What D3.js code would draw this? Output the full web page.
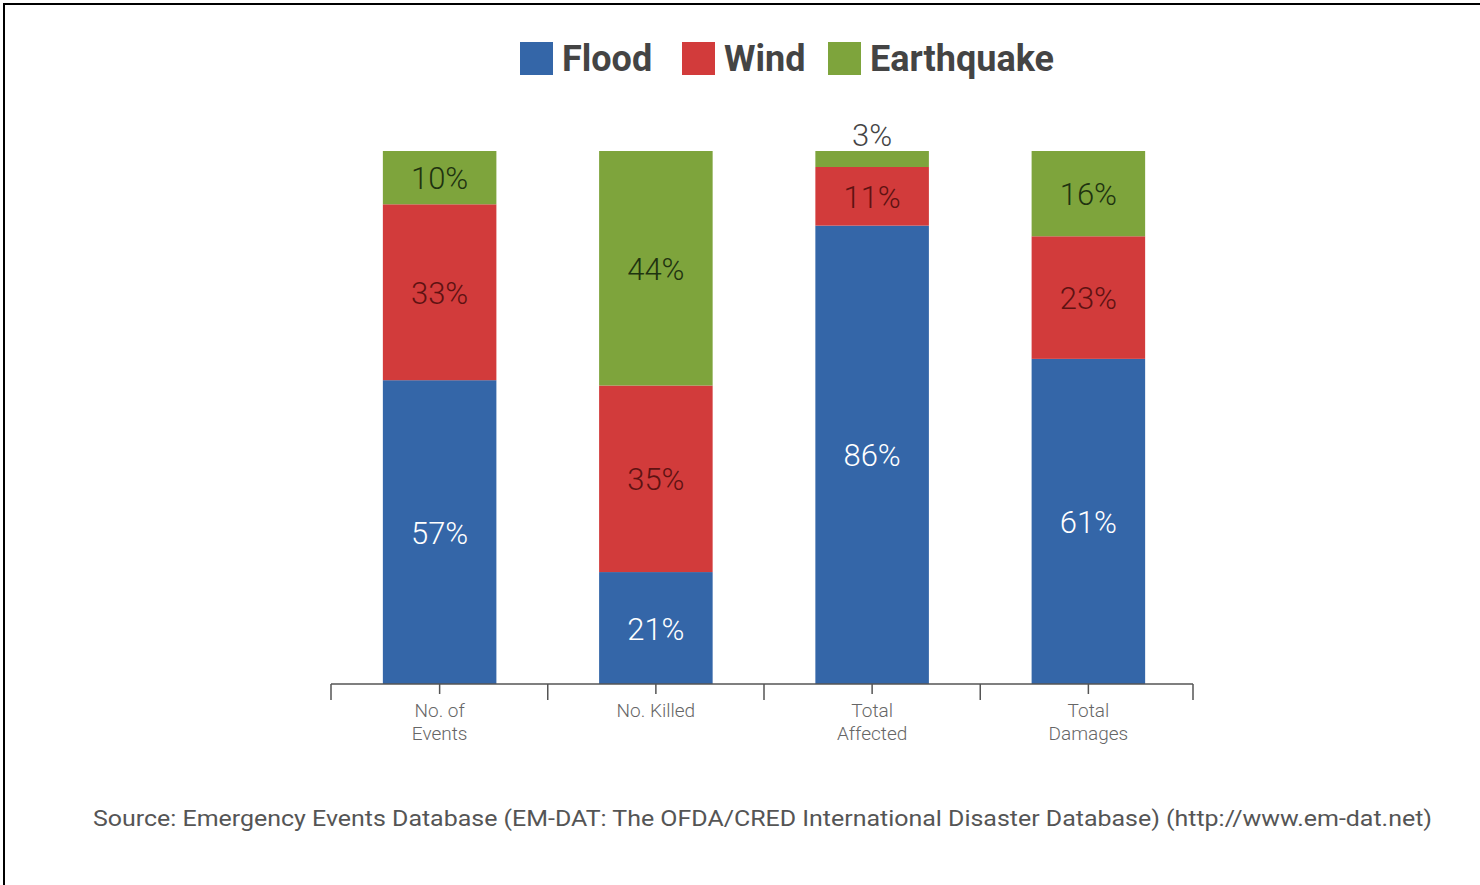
<!DOCTYPE html>
<html>
<head>
<meta charset="utf-8">
<script src="https://cdn.jsdelivr.net/npm/d3@7"></script>
<style>
  html, body { margin: 0; padding: 0; background: #fff; }
  svg { display: block; }
</style>
</head>
<body>
<svg id="chart" width="1480" height="885"></svg>
<script>
// Share of disasters by type across four impact measures (percent)
const categories = [["No. of", "Events"], ["No. Killed"], ["Total", "Affected"], ["Total", "Damages"]];
const seriesNames = ["Flood", "Wind", "Earthquake"];
const flood = [57, 21, 86, 61];
const wind = [33, 35, 11, 23];
const earthquake = [10, 44, 3, 16];
const sourceText = "Source: Emergency Events Database (EM-DAT: The OFDA/CRED International Disaster Database) (http://www.em-dat.net)";

const colors = ["#3466a8", "#d23b3b", "#7ea43c"];
const labelColors = ["#ffffff", "#5e1212", "#1e3310"];

const svg = d3.select("#chart");

// frame lines along the top and left edges
svg.append("line").attr("x1", 3).attr("x2", 1480).attr("y1", 4).attr("y2", 4)
  .attr("stroke", "#000").attr("stroke-width", 2);
svg.append("line").attr("x1", 4).attr("x2", 4).attr("y1", 3).attr("y2", 885)
  .attr("stroke", "#000").attr("stroke-width", 2);

const keys = categories.map((c, i) => i);
const axisLeft = 331, axisRight = 1193;
const x = d3.scaleBand().domain(keys).range([331.5, 1196.5]).paddingInner(0.475).paddingOuter(0.2375);
const y = d3.scaleLinear().domain([0, 100]).range([684, 151]);

const rows = keys.map(i => ({ i, Flood: flood[i], Wind: wind[i], Earthquake: earthquake[i] }));
const stacked = d3.stack().keys(seriesNames)(rows);

const layers = svg.append("g").selectAll("g").data(stacked).join("g")
  .attr("fill", (d, k) => colors[k]);

layers.selectAll("rect").data(d => d).join("rect")
  .attr("x", d => x(d.data.i))
  .attr("width", x.bandwidth())
  .attr("y", d => y(d[1]))
  .attr("height", d => y(d[0]) - y(d[1]));

// value labels: centred in the segment, or above the bar when the segment is too thin
const labelFont = "Roboto, 'Liberation Sans', sans-serif";
stacked.forEach((layer, k) => {
  layer.forEach(d => {
    const v = d[1] - d[0];
    const h = y(d[0]) - y(d[1]);
    const inside = h > 36;
    svg.append("text")
      .attr("x", x(d.data.i) + x.bandwidth() / 2)
      .attr("y", inside ? (y(d[0]) + y(d[1])) / 2 + 1 : y(d[1]) - 16)
      .attr("text-anchor", "middle")
      .attr("dominant-baseline", "central")
      .attr("font-family", labelFont)
      .attr("font-weight", 300)
      .attr("font-size", 31)
      .attr("fill", inside ? labelColors[k] : "#444")
      .text(v + "%");
  });
});

// category axis with ticks at band edges and centres
const axisY = 684;
const ax = svg.append("g").attr("stroke", "#555").attr("stroke-width", 1.5);
ax.append("line").attr("x1", axisLeft).attr("x2", axisRight).attr("y1", axisY).attr("y2", axisY);
const edges = keys.map(i => x(i) - x.step() * x.paddingInner() / 2);
edges[0] = axisLeft;
edges.push(axisRight);
ax.selectAll(".edge").data(edges).join("line").attr("class", "edge")
  .attr("x1", d => d).attr("x2", d => d).attr("y1", axisY).attr("y2", axisY + 16);
ax.selectAll(".mid").data(keys).join("line").attr("class", "mid")
  .attr("x1", i => x(i) + x.bandwidth() / 2).attr("x2", i => x(i) + x.bandwidth() / 2)
  .attr("y1", axisY).attr("y2", axisY + 10);

const catLabels = svg.append("g").selectAll("text").data(keys).join("text")
  .attr("x", i => x(i) + x.bandwidth() / 2)
  .attr("y", 717)
  .attr("text-anchor", "middle")
  .attr("font-family", labelFont)
  .attr("font-weight", 300)
  .attr("font-size", 19)
  .attr("fill", "#666");
catLabels.each(function (i) {
  const t = d3.select(this);
  categories[i].forEach((line, j) => {
    t.append("tspan").attr("x", x(i) + x.bandwidth() / 2).attr("dy", j === 0 ? 0 : 23).text(line);
  });
});

// legend
const legendItems = [
  { name: seriesNames[0], sx: 520, tx: 562 },
  { name: seriesNames[1], sx: 682, tx: 724 },
  { name: seriesNames[2], sx: 828, tx: 870 }
];
const lg = svg.append("g");
legendItems.forEach((it, k) => {
  lg.append("rect").attr("x", it.sx).attr("y", 42).attr("width", 33).attr("height", 33).attr("fill", colors[k]);
  lg.append("text").attr("x", it.tx).attr("y", 71)
    .attr("font-family", "Roboto, 'Liberation Sans', sans-serif")
    .attr("font-weight", 700).attr("font-size", 36).attr("fill", "#444")
    .text(it.name);
});

// source note
svg.append("text")
  .attr("x", 93).attr("y", 826)
  .attr("font-family", "Roboto, 'Liberation Sans', sans-serif")
  .attr("font-size", 22).attr("fill", "#555")
  .attr("textLength", 1339).attr("lengthAdjust", "spacingAndGlyphs")
  .text(sourceText);
</script>
</body>
</html>
